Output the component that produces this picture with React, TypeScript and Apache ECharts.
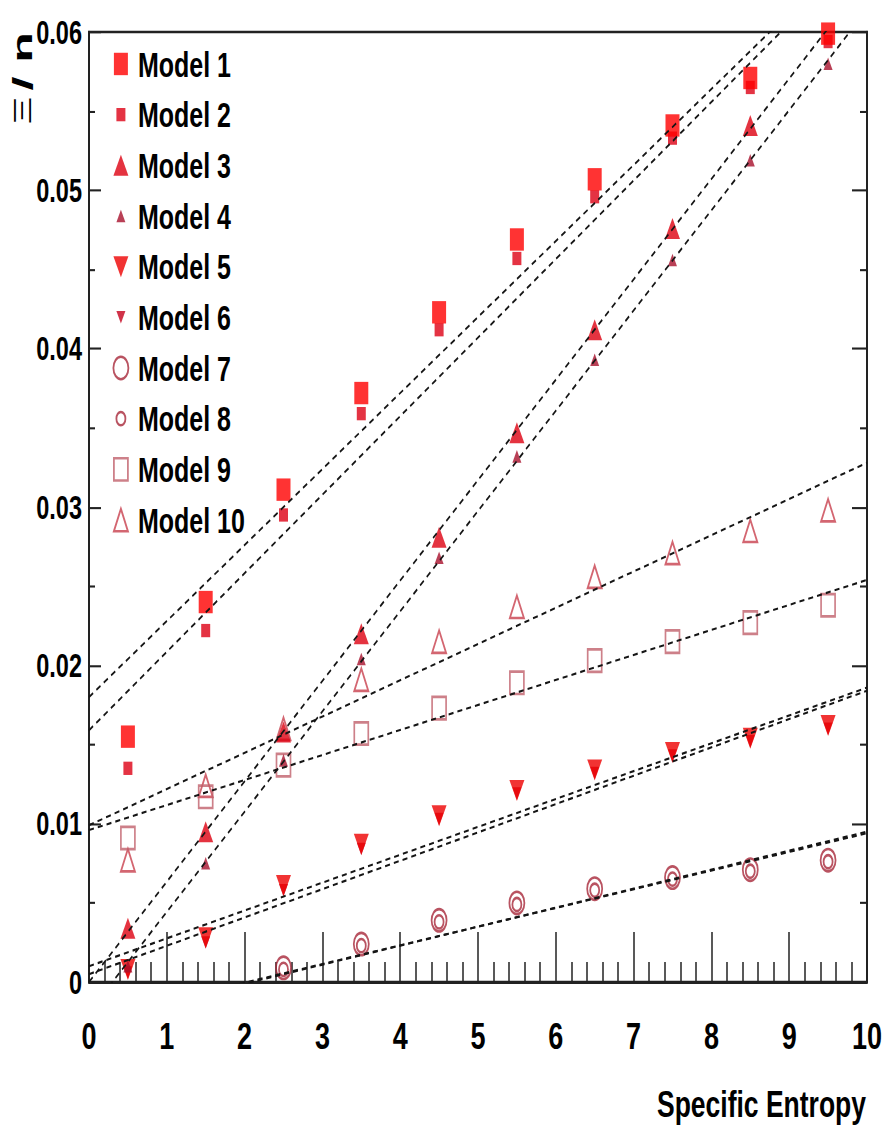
import React, { useEffect, useRef } from 'react';
import * as echarts from 'echarts';

// ---------- data ----------
const xValues = [0.5, 1.5, 2.5, 3.5, 4.5, 5.5, 6.5, 7.5, 8.5, 9.5];
const model1 = [0.0155, 0.0240, 0.0311, 0.0372, 0.0423, 0.0469, 0.0507, 0.0541, 0.0571, 0.0599];
const model2 = [0.0135, 0.0222, 0.0295, 0.0359, 0.0412, 0.0457, 0.0496, 0.0533, 0.0565, 0.0594];
const model3 = [0.0034, 0.0095, 0.0158, 0.0220, 0.0281, 0.0347, 0.0412, 0.0476, 0.0541, 0.0601];
const model4 = [0.0010, 0.0075, 0.0140, 0.0204, 0.0268, 0.0332, 0.0393, 0.0456, 0.0519, 0.0580];
const model5 = [0.0008, 0.0028, 0.0061, 0.0087, 0.0105, 0.0121, 0.0134, 0.0145, 0.0154, 0.0162];
const model6 = [0.0006, 0.0025, 0.0058, 0.0084, 0.0103, 0.0119, 0.0132, 0.0143, 0.0152, 0.0160];
const model7 = [null, null, 0.0009, 0.0024, 0.0039, 0.0050, 0.0059, 0.0066, 0.0071, 0.0077];
const model8 = [null, null, 0.0008, 0.0023, 0.0038, 0.0049, 0.0058, 0.0065, 0.0070, 0.0076];
const model9 = [0.0091, 0.0117, 0.0137, 0.0157, 0.0173, 0.0189, 0.0203, 0.0215, 0.0227, 0.0238];
const model10 = [0.0077, 0.0124, 0.0160, 0.0191, 0.0215, 0.0237, 0.0256, 0.0271, 0.0285, 0.0298];

// linear fit lines (dashed): y = intercept + slope * x
const fitIntercept = [0.0180, 0.0159, 0.0000, -0.0019, 0.0010, 0.0005, -0.0025, -0.0024, 0.0096, 0.0099];
const fitSlope = [0.00480, 0.00496, 0.00634, 0.00633, 0.00176, 0.00179, 0.00120, 0.00118, 0.00158, 0.00229];
const fitRange = [0, 10];

const modelNames = ['Model 1', 'Model 2', 'Model 3', 'Model 4', 'Model 5', 'Model 6', 'Model 7', 'Model 8', 'Model 9', 'Model 10'];
const modelValues = [model1, model2, model3, model4, model5, model6, model7, model8, model9, model10];

const xMin = 0, xMax = 10, xInterval = 1;
const yMin = 0, yMax = 0.06, yInterval = 0.01;

const xTitle = 'Specific Entropy';

// ---------- layout / styles ----------
// the reference picture is a vertically stretched plot: draw at native height, then stretch
const W = 885, H_OUT = 1138, H = 813;
const STRETCH = H_OUT / H;
const FONT = '"Liberation Sans", Arial, Helvetica, sans-serif';
const modelColors = ['#ff0000', '#dd0014', '#dd0010', '#a8102c', '#ee0000', '#c4001c', '#a8283a', '#a8283a', '#c0606c', '#c8404e'];
const modelFilled = [true, true, true, true, true, true, false, false, false, false];
const modelKinds = ['rect', 'rect', 'tri', 'tri', 'down', 'down', 'ellipse', 'ellipse', 'rect', 'tri'];
const modelSizes: number[][] = [[14, 16], [9, 9.5], [15, 15], [9, 9], [15, 15], [9, 9], [15, 16], [9, 9.5], [14, 16], [14, 16]];

function shapePath(kind: string, cx: number, cy: number, w: number, h: number) {
  const x0 = cx - w / 2, x1 = cx + w / 2, y0 = cy - h / 2, y1 = cy + h / 2;
  if (kind === 'rect') return `M${x0},${y0}L${x1},${y0}L${x1},${y1}L${x0},${y1}Z`;
  if (kind === 'tri') return `M${cx},${y0}L${x1},${y1}L${x0},${y1}Z`;
  if (kind === 'down') return `M${x0},${y0}L${x1},${y0}L${cx},${y1}Z`;
  return `M${x0},${cy}A${w / 2},${h / 2} 0 1,1 ${x1},${cy}A${w / 2},${h / 2} 0 1,1 ${x0},${cy}Z`;
}
function dataSymbol(kind: string) {
  if (kind === 'rect') return 'rect';
  if (kind === 'tri') return 'triangle';
  return 'path://' + shapePath(kind, 10, 10, 20, 20);
}
const LEG_W = 24, LEG_H = 18;
function legendIcon(kind: string, w: number, h: number) {
  return `path://M0,0M${LEG_W},${LEG_H}` + shapePath(kind, LEG_W / 2, LEG_H / 2, w, h);
}
function itemStyleFor(i: number) {
  return modelFilled[i]
    ? { color: modelColors[i], borderWidth: 0 }
    : { color: 'rgba(255,255,255,0)', borderColor: modelColors[i], borderWidth: 1.8 };
}

export default function App() {
  const ref = useRef<HTMLDivElement>(null);
  useEffect(() => {
    if (!ref.current) return;
    const chart = echarts.init(ref.current, undefined, { renderer: 'svg', width: W, height: H });

    const scatterSeries: any[] = [];
    for (let i = modelNames.length - 1; i >= 0; i--) {
      const pts: number[][] = [];
      modelValues[i].forEach((v, k) => {
        if (v !== null && v !== undefined) pts.push([xValues[k], v as number]);
      });
      scatterSeries.push({
        name: modelNames[i],
        type: 'scatter',
        symbol: dataSymbol(modelKinds[i]),
        symbolSize: modelSizes[i],
        itemStyle: itemStyleFor(i),
        data: pts,
        z: 2,
        silent: true,
      });
    }
    const lineSeries = modelNames.map((n, i) => ({
      name: 'fit ' + n,
      type: 'line',
      showSymbol: false,
      symbol: 'none',
      clip: true,
      z: 5,
      silent: true,
      lineStyle: { color: '#151515', width: 1.5, type: [5, 4] },
      data: fitRange.map((x) => [x, fitIntercept[i] + fitSlope[i] * x]),
    }));

    const tickColor = '#222';
    const option: any = {
      animation: false,
      backgroundColor: '#ffffff',
      grid: { left: 89, right: 16, top: 22.9, bottom: 111.4, show: true, borderColor: '#222', borderWidth: 1.8, backgroundColor: 'rgba(0,0,0,0)' },
      legend: {
        orient: 'vertical',
        left: 108,
        top: 33.2,
        padding: 0,
        itemWidth: LEG_W,
        itemHeight: LEG_H,
        itemGap: 11.2,
        selectedMode: false,
        textStyle: { fontFamily: FONT, fontWeight: 'bold', fontSize: 25, color: '#000' },
        data: modelNames.map((n, i) => ({
          name: n,
          icon: legendIcon(modelKinds[i], modelSizes[i][0], modelSizes[i][1]),
          itemStyle: itemStyleFor(i),
        })),
      },
      xAxis: [{
        type: 'value', min: xMin, max: xMax, interval: xInterval, position: 'bottom',
        axisLine: { show: true, onZero: false, lineStyle: { color: tickColor, width: 1.8 } },
        axisTick: { show: true, inside: true, length: 35.7, lineStyle: { color: tickColor, width: 1.5 } },
        minorTick: { show: true, splitNumber: 5, length: 14.3, lineStyle: { color: tickColor, width: 1.5 } },
        splitLine: { show: false },
        minorSplitLine: { show: false },
        axisLabel: { color: '#000', fontFamily: FONT, fontWeight: 'bold', fontSize: 27, margin: 25, showMinLabel: true, showMaxLabel: true },
      }],
      yAxis: [{
        type: 'value', min: yMin, max: yMax, interval: yInterval, position: 'left',
        axisLine: { show: true, onZero: false, lineStyle: { color: tickColor, width: 2 } },
        axisTick: { show: true, inside: true, length: 12, lineStyle: { color: tickColor, width: 1.5 } },
        minorTick: { show: true, splitNumber: 2, length: 6, lineStyle: { color: tickColor, width: 1.5 } },
        splitLine: { show: false },
        minorSplitLine: { show: false },
        axisLabel: { color: '#000', fontFamily: FONT, fontWeight: 'bold', fontSize: 23.5, margin: 7, showMinLabel: true, showMaxLabel: true },
      }, {
        type: 'value', min: yMin, max: yMax, interval: yInterval, position: 'right',
        axisLine: { show: true, onZero: false, lineStyle: { color: tickColor, width: 2 } },
        axisTick: { show: true, inside: true, length: 15, lineStyle: { color: tickColor, width: 1.5 } },
        minorTick: { show: true, splitNumber: 2, length: 7, lineStyle: { color: tickColor, width: 1.5 } },
        splitLine: { show: false },
        minorSplitLine: { show: false },
        axisLabel: { show: false },
      }],
      graphic: [
        {
          type: 'text', x: 22, y: 22.9, rotation: Math.PI / 2, scaleX: 1.28, silent: true,
          style: {
            text: '{a|Ξ} {b|/ n}',
            align: 'right', verticalAlign: 'middle', textAlign: 'right', textVerticalAlign: 'middle',
            fill: '#000',
            rich: {
              a: { fontFamily: FONT, fontWeight: 'normal', fontSize: 24, fill: '#000', color: '#000' },
              b: { fontFamily: FONT, fontWeight: 'bold', fontSize: 28, fill: '#000', color: '#000' },
            },
          },
        },
        {
          type: 'text', x: 866, y: 789, silent: true,
          style: {
            text: xTitle,
            font: `bold 26.5px ${FONT}`,
            align: 'right', verticalAlign: 'middle', textAlign: 'right', textVerticalAlign: 'middle',
            fill: '#000',
          },
        },
      ],
      series: [...scatterSeries, ...lineSeries],
    };
    chart.setOption(option);
    return () => chart.dispose();
  }, []);
  return (
    <div style={{ position: 'absolute', left: 0, top: 0, width: W, height: H_OUT, background: '#fff', overflow: 'hidden' }}>
      <div
        ref={ref}
        style={{ position: 'absolute', left: 0, top: 0, width: W, height: H, transform: `scaleY(${STRETCH})`, transformOrigin: '0 0' }}
      />
    </div>
  );
}
